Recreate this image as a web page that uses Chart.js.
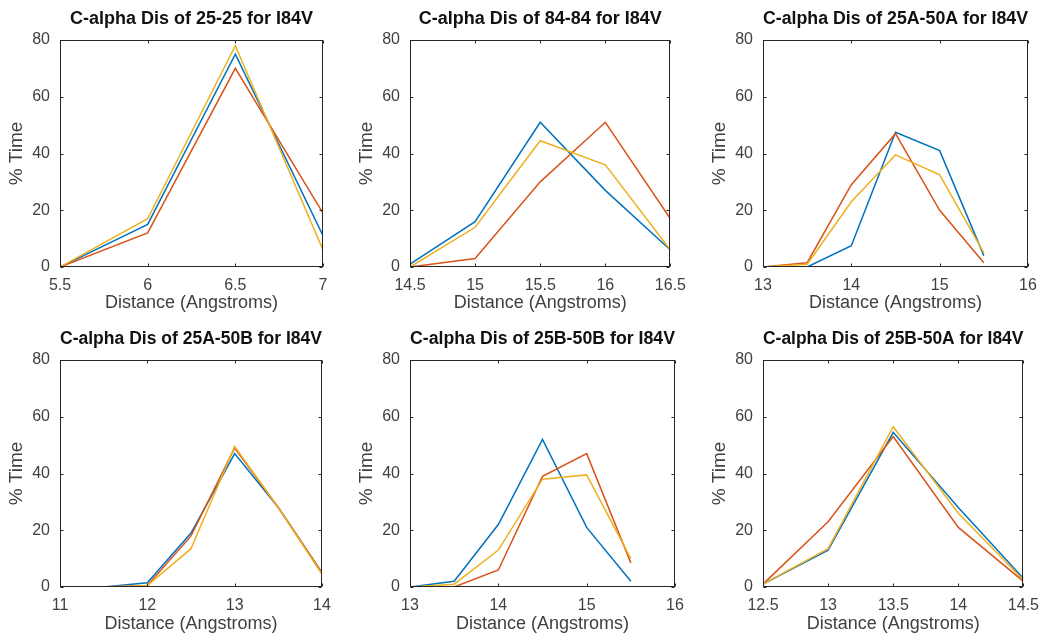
<!DOCTYPE html>
<html>
<head>
<meta charset="utf-8">
<script src="https://cdn.jsdelivr.net/npm/chart.js@4.4.0/dist/chart.umd.min.js"></script>
<style>
  body { margin: 0; background: #fff; }
  #wrap { position: relative; width: 1049px; height: 641px; overflow: hidden; background: #fff; }
  canvas { position: absolute; }
</style>
</head>
<body>
<div id="wrap">
  <canvas id="c1"></canvas>
  <canvas id="c2"></canvas>
  <canvas id="c3"></canvas>
  <canvas id="c4"></canvas>
  <canvas id="c5"></canvas>
  <canvas id="c6"></canvas>
</div>
<script>
// panel titles
const titles = [
  "C-alpha Dis of 25-25 for I84V",
  "C-alpha Dis of 84-84 for I84V",
  "C-alpha Dis of 25A-50A for I84V",
  "C-alpha Dis of 25A-50B for I84V",
  "C-alpha Dis of 25B-50B for I84V",
  "C-alpha Dis of 25B-50A for I84V",
];

// bin centres (Angstroms)
const x1 = [5.5, 6, 6.5, 7];
const x2 = [14.5, 15, 15.5, 16, 16.5];
const x3 = [13, 13.5, 14, 14.5, 15, 15.5];
const x4 = [11.5, 12, 12.5, 13, 13.5, 14];
const x5 = [13, 13.5, 14, 14.5, 15, 15.5];
const x6 = [12.5, 13, 13.5, 14, 14.5];

// % time, three runs per panel
const blue1 = [0, 15, 75, 11];
const red1 = [0, 12, 70, 19];
const yellow1 = [0, 17, 78, 6];

const blue2 = [1, 16, 51, 27, 6];
const red2 = [0, 3, 30, 51, 17];
const yellow2 = [0, 14, 44.5, 36, 6];

const blue3 = [0, 0, 7.5, 47.5, 41, 4];
const red3 = [0, 1.5, 29, 47, 20, 1.5];
const yellow3 = [0, 1, 23, 39.5, 32.5, 5];

const blue4 = [0, 1.5, 19, 47, 28, 5];
const red4 = [0, 0.5, 18, 49, 28, 5];
const yellow4 = [0, 0.5, 13.5, 49.5, 28, 4.5];

const blue5 = [0, 2, 22, 52, 21, 2];
const red5 = [0, 0, 6, 39, 47, 8.5];
const yellow5 = [0, 1, 13, 38, 39.5, 10];

const blue6 = [1, 13, 54.5, 28, 3];
const red6 = [1, 23, 53, 21, 2];
const yellow6 = [1, 13.5, 56.5, 26, 2.5];

// tick labels
const xTicks1 = [5.5, 6, 6.5, 7];
const xTicks2 = [14.5, 15, 15.5, 16, 16.5];
const xTicks3 = [13, 14, 15, 16];
const xTicks4 = [11, 12, 13, 14];
const xTicks5 = [13, 14, 15, 16];
const xTicks6 = [12.5, 13, 13.5, 14, 14.5];
const yTicks = [0, 20, 40, 60, 80];

const xs = [x1, x2, x3, x4, x5, x6];
const blues = [blue1, blue2, blue3, blue4, blue5, blue6];
const reds = [red1, red2, red3, red4, red5, red6];
const yellows = [yellow1, yellow2, yellow3, yellow4, yellow5, yellow6];
const xTicks = [xTicks1, xTicks2, xTicks3, xTicks4, xTicks5, xTicks6];

// where each canvas sits on the page
const boxes = [
  { left: 0, top: 0, plotW: 263, h: 320, xh: 53 },
  { left: 350, top: 0, plotW: 265, h: 320, xh: 53 },
  { left: 703, top: 0, plotW: 265, h: 320, xh: 53 },
  { left: 0, top: 320, plotW: 262, h: 321, xh: 54 },
  { left: 350, top: 320, plotW: 265, h: 321, xh: 54 },
  { left: 703, top: 320, plotW: 265, h: 321, xh: 54 },
];

const ink = "#262626";
const grey = "#404040";
const fam = "'Liberation Sans', Arial, sans-serif";
const yAxisW = 60;
const padRight = 20;

// matlab style box with inward ticks on all four sides
const axesBox = {
  id: "axesBox",
  afterDatasetsDraw(chart) {
    const { ctx, chartArea: a, scales } = chart;
    const l = Math.round(a.left) + 0.5, r = Math.round(a.right) - 0.5;
    const t = Math.round(a.top) + 0.5, b = Math.round(a.bottom) - 0.5;
    ctx.save();
    ctx.strokeStyle = ink;
    ctx.lineWidth = 1;
    ctx.strokeRect(l, t, r - l, b - t);
    ctx.beginPath();
    scales.x.ticks.forEach((tk) => {
      const px = Math.round(scales.x.getPixelForValue(tk.value)) + 0.5;
      ctx.moveTo(px, b); ctx.lineTo(px, b - 3);
      ctx.moveTo(px, t); ctx.lineTo(px, t + 3);
    });
    scales.y.ticks.forEach((tk) => {
      const py = Math.round(scales.y.getPixelForValue(tk.value)) + 0.5;
      ctx.moveTo(l, py); ctx.lineTo(l + 3, py);
      ctx.moveTo(r, py); ctx.lineTo(r - 3, py);
    });
    ctx.stroke();
    ctx.restore();
  },
};

function series(x, y, color, order) {
  return {
    data: x.map((v, i) => ({ x: v, y: y[i] })),
    borderColor: color,
    backgroundColor: color,
    borderWidth: 1.5,
    pointRadius: 0,
    tension: 0,
    order: order,
  };
}

titles.forEach((title, i) => {
  const box = boxes[i];
  const cv = document.getElementById("c" + (i + 1));
  const w = yAxisW + box.plotW + padRight;
  cv.width = w;
  cv.height = box.h;
  cv.style.left = box.left + "px";
  cv.style.top = box.top + "px";
  const ticks = xTicks[i];

  new Chart(cv.getContext("2d"), {
    type: "line",
    data: {
      datasets: [
        series(xs[i], blues[i], "#0072BD", 3),
        series(xs[i], reds[i], "#D95319", 2),
        series(xs[i], yellows[i], "#EDB120", 1),
      ],
    },
    options: {
      responsive: false,
      animation: false,
      layout: { padding: { left: 0, right: padRight, top: 0, bottom: 0 } },
      plugins: {
        legend: { display: false },
        tooltip: { enabled: false },
        title: {
          display: true,
          text: title,
          fullSize: false,
          color: "#111",
          font: { family: fam, size: 18, weight: "bold", lineHeight: 1.2 },
          padding: { top: 8, bottom: 10.4 },
        },
      },
      scales: {
        x: {
          type: "linear",
          min: ticks[0],
          max: ticks[ticks.length - 1],
          afterBuildTicks: (s) => { s.ticks = ticks.map((v) => ({ value: v })); },
          afterFit: (s) => { s.height = box.xh; },
          grid: { display: false, drawTicks: false },
          border: { display: false },
          ticks: {
            color: grey,
            padding: 9,
            maxRotation: 0,
            callback: (v) => String(v),
            font: { family: fam, size: 16 },
          },
          title: {
            display: true,
            text: "Distance (Angstroms)",
            color: grey,
            font: { family: fam, size: 18, lineHeight: 1.2 },
            padding: { top: 0, bottom: 6 },
          },
        },
        y: {
          min: 0,
          max: 80,
          afterBuildTicks: (s) => { s.ticks = yTicks.map((v) => ({ value: v })); },
          afterFit: (s) => { s.width = yAxisW; },
          grid: { display: false, drawTicks: false },
          border: { display: false },
          ticks: {
            color: grey,
            padding: 10,
            callback: (v) => String(v),
            font: { family: fam, size: 16 },
          },
          title: {
            display: true,
            text: "% Time",
            color: grey,
            font: { family: fam, size: 19, lineHeight: 1.2 },
            padding: { top: 5, bottom: 0 },
          },
        },
      },
    },
    plugins: [axesBox],
  });
});
</script>
</body>
</html>
